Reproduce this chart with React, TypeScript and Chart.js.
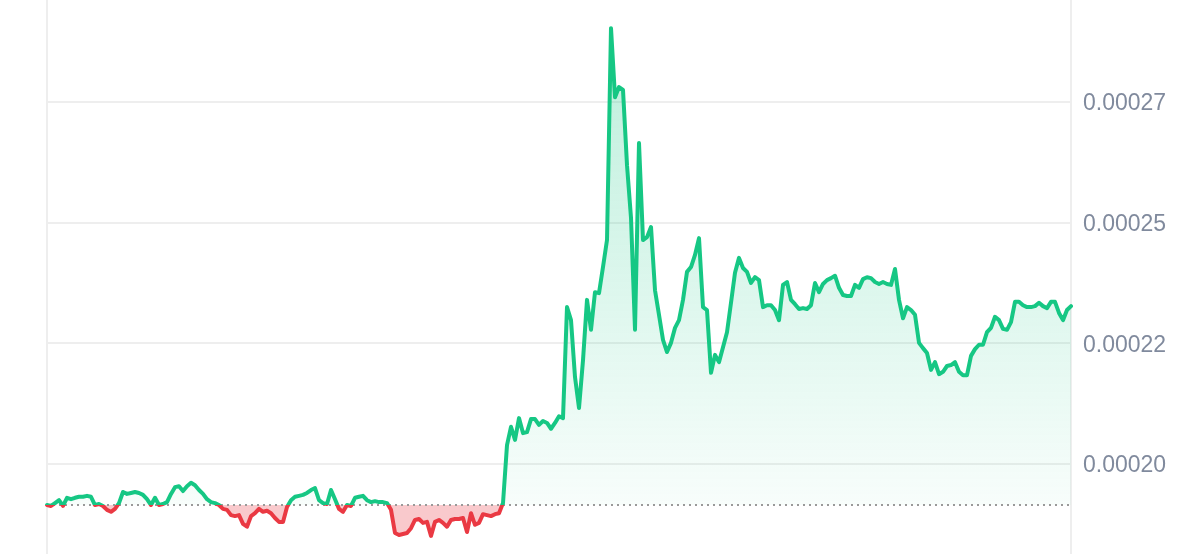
import React, { useEffect, useRef } from "react";
import { Chart, registerables } from "chart.js";

Chart.register(...registerables);

// Price in millionths (value × 1e6), one point per 5-minute step
const PRICE_MICRO: number[] = [
  191.5, 191.3, 191.9, 192.5, 191.3, 193.0, 192.7, 193.0, 193.2, 193.2,
  193.4, 193.2, 191.5, 191.7, 191.3, 190.5, 190.1, 190.7, 191.9, 194.2,
  193.8, 194.0, 194.2, 194.0, 193.6, 192.7, 191.5, 193.0, 191.5, 191.7,
  192.1, 193.8, 195.2, 195.4, 194.4, 195.4, 196.1, 195.6, 194.6, 193.8,
  192.7, 192.1, 191.9, 191.5, 190.7, 190.5, 189.4, 189.2, 189.4, 187.6,
  187.0, 189.2, 189.8, 190.7, 190.1, 190.3, 189.8, 188.8, 188.0, 188.0,
  191.1, 192.5, 193.2, 193.4, 193.6, 194.0, 194.6, 195.0, 192.5, 191.9,
  191.7, 194.6, 192.7, 190.7, 190.1, 191.5, 191.3, 193.0, 193.2, 193.4,
  192.5, 192.1, 192.3, 192.1, 192.1, 191.9, 190.5, 185.7, 185.3, 185.5,
  185.7, 186.7, 188.4, 188.6, 187.8, 188.0, 185.1, 188.0, 188.4, 187.8,
  187.0, 188.4, 188.6, 188.6, 188.8, 185.9, 189.8, 187.4, 187.8, 189.6,
  189.4, 189.2, 189.6, 189.8, 191.9, 203.9, 207.7, 205.0, 209.5, 206.4,
  206.6, 209.3, 209.3, 208.1, 208.9, 208.5, 207.3, 208.5, 209.9, 209.5,
  232.5, 229.8, 218.0, 211.6, 221.5, 234.0, 227.8, 235.6, 235.4, 240.8,
  246.4, 290.3, 276.0, 278.1, 277.5, 261.9, 251.0, 227.8, 266.5, 246.4,
  247.0, 249.1, 236.0, 230.9, 225.7, 223.2, 225.1, 228.2, 229.8, 234.0,
  239.8, 240.8, 243.3, 246.8, 232.5, 231.9, 218.9, 222.6, 221.1, 224.2,
  227.3, 233.4, 239.6, 242.7, 240.6, 239.8, 237.5, 238.7, 238.1, 232.5,
  232.9, 232.9, 231.9, 229.8, 237.1, 237.7, 234.0, 233.1, 232.1, 232.3,
  232.1, 232.9, 237.5, 235.6, 237.3, 238.1, 238.5, 239.0, 236.5, 235.0,
  234.8, 234.8, 237.1, 236.5, 238.3, 238.7, 238.5, 237.7, 237.3, 237.7,
  237.3, 237.1, 240.4, 234.0, 230.2, 232.5, 231.9, 230.9, 225.1, 224.0,
  223.0, 219.5, 221.1, 218.6, 219.1, 220.3, 220.5, 221.1, 219.1, 218.4,
  218.4, 222.4, 223.8, 224.7, 224.7, 227.3, 228.2, 230.5, 229.8, 228.0,
  227.8, 229.4, 233.6, 233.6, 232.9, 232.5, 232.5, 232.7, 233.4, 232.7,
  232.3, 233.6, 233.6, 231.3, 229.8, 231.9, 232.7,
];

const BASELINE = 191.5; // opening price (× 1e6)
const Y_MIN = 181.35;
const Y_MAX = 296.13;
const TICK_VALUES = [200, 225, 250, 275];
const TICK_LABELS = ["0.00020", "0.00022", "0.00025", "0.00027"];
const LABELS = PRICE_MICRO.map((_, i) => String(i));

const GREEN = "#16c784";
const RED = "#ea3943";

function baselineFraction(chart: any): number | null {
  const area = chart.chartArea;
  if (!area || !chart.scales || !chart.scales.y) return null;
  const y = chart.scales.y.getPixelForValue(BASELINE);
  const f = (y - area.top) / (area.bottom - area.top);
  return Math.min(1, Math.max(0, f));
}

function lineColor(ctx: any) {
  const chart = ctx.chart;
  const f = baselineFraction(chart);
  if (f === null) return GREEN;
  const area = chart.chartArea;
  const g = chart.ctx.createLinearGradient(0, area.top, 0, area.bottom);
  g.addColorStop(0, GREEN);
  g.addColorStop(f, GREEN);
  g.addColorStop(f, RED);
  g.addColorStop(1, RED);
  return g;
}

function fillColor(ctx: any) {
  const chart = ctx.chart;
  const area = chart.chartArea;
  if (!area || !chart.scales || !chart.scales.y) return "rgba(22,199,132,0.12)";
  const y = chart.scales.y.getPixelForValue(BASELINE);
  const g = chart.ctx.createLinearGradient(0, area.top, 0, y);
  g.addColorStop(0, "rgba(22,199,132,0.30)");
  g.addColorStop(1, "rgba(22,199,132,0.03)");
  return g;
}

export default function App() {
  const ref = useRef<HTMLCanvasElement | null>(null);

  useEffect(() => {
    if (!ref.current) return;
    const chart = new Chart(ref.current, {
      type: "line",
      data: {
        labels: LABELS,
        datasets: [
          {
            label: "Price",
            data: PRICE_MICRO,
            borderColor: lineColor,
            backgroundColor: fillColor,
            borderWidth: 4,
            pointRadius: 0,
            pointHoverRadius: 0,
            tension: 0,
            borderJoinStyle: "round",
            borderCapStyle: "round",
            fill: { target: { value: BASELINE }, below: "rgba(234,57,67,0.27)" } as any,
            order: 1,
          },
          {
            label: "Open",
            data: LABELS.map(() => BASELINE),
            borderColor: "#9a9a9a",
            borderWidth: 2,
            borderDash: [2, 4],
            pointRadius: 0,
            pointHoverRadius: 0,
            fill: false,
            order: 2,
          },
        ],
      },
      options: {
        animation: false,
        responsive: true,
        maintainAspectRatio: false,
        events: [],
        layout: { padding: { left: 47, right: 0, top: 0, bottom: 0 } },
        plugins: {
          legend: { display: false },
          tooltip: { enabled: false },
          filler: { drawTime: "beforeDatasetsDraw" } as any,
        },
        scales: {
          x: {
            type: "category",
            display: true,
            ticks: { display: false },
            border: { display: false },
            grid: {
              drawTicks: false,
              lineWidth: 2,
              color: (c: any) => (c.index === 0 ? "#eeeeee" : "rgba(0,0,0,0)"),
            },
            afterFit: (s: any) => {
              s.height = 0;
            },
          },
          y: {
            position: "right",
            min: Y_MIN,
            max: Y_MAX,
            afterBuildTicks: (axis: any) => {
              axis.ticks = TICK_VALUES.map((v) => ({ value: v }));
            },
            afterFit: (s: any) => {
              s.width = 129;
              s.paddingTop = 0;
              s.paddingBottom = 0;
            },
            ticks: {
              padding: 12,
              labelOffset: 2,
              color: "#808a9d",
              font: { family: "'Liberation Sans', Arial, Helvetica, sans-serif", size: 23 },
              callback: (_v: any, i: number) => TICK_LABELS[i],
            },
            grid: { color: "#eeeeee", lineWidth: 2, drawTicks: false },
            border: { display: true, color: "#eeeeee", width: 2 },
          },
        },
      },
    });
    return () => chart.destroy();
  }, []);

  return (
    <div
      style={{
        position: "fixed",
        left: 0,
        top: 0,
        width: 1200,
        height: 554,
        background: "#ffffff",
      }}
    >
      <canvas ref={ref} />
    </div>
  );
}
